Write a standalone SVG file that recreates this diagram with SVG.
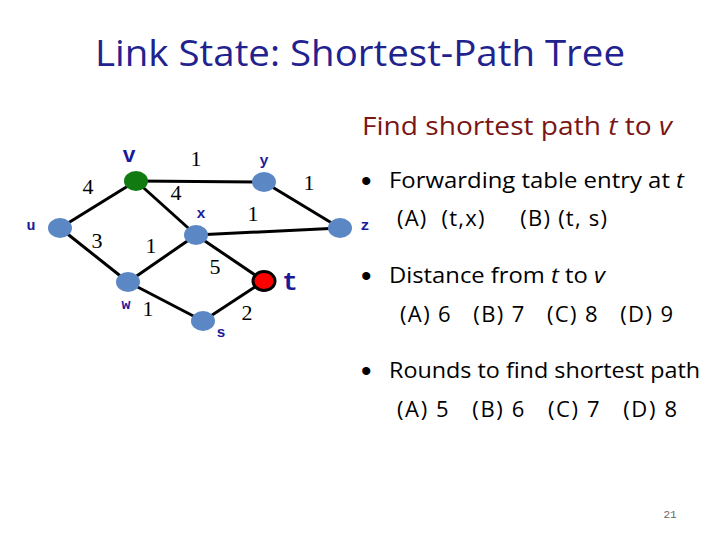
<svg xmlns="http://www.w3.org/2000/svg" width="720" height="540" viewBox="0 0 720 540">
<style>
.e{stroke:#000;stroke-width:3;fill:none}
.n{fill:#5b87c5}
.lbl{font-family:"Liberation Mono",monospace;font-weight:bold;fill:#1a1a99;text-anchor:middle}
.w{font-family:"Liberation Serif",serif;font-size:22px;fill:#000;text-anchor:middle}
.t{font-family:"Open Sans","Noto Sans",sans-serif;fill:#000}
.b{font-family:"Liberation Sans",sans-serif;font-size:30px;fill:#000}
</style>
<rect width="720" height="540" fill="#fff"/>
<text x="360" y="66" text-anchor="middle" font-family="Open Sans, Noto Sans, sans-serif" font-size="36" fill="#22228f" textLength="530" lengthAdjust="spacingAndGlyphs">Link State: Shortest-Path Tree</text>
<g id="connectors">
<line class="e" x1="136" y1="181" x2="264" y2="182"/>
<line class="e" x1="136" y1="181" x2="60" y2="228"/>
<line class="e" x1="136" y1="181" x2="196" y2="235"/>
<line class="e" x1="60" y1="228" x2="128" y2="282"/>
<line class="e" x1="128" y1="282" x2="196" y2="235"/>
<line class="e" x1="128" y1="282" x2="203" y2="321"/>
<line class="e" x1="196" y1="235" x2="340" y2="228"/>
<line class="e" x1="196" y1="235" x2="264" y2="281"/>
<line class="e" x1="264" y1="182" x2="340" y2="228"/>
<line class="e" x1="203" y1="321" x2="264" y2="281"/>
</g>
<g id="node-v"><ellipse cx="136" cy="181" rx="12" ry="10" fill="#117a11"/><text class="lbl" x="129" y="162" font-size="22">v</text></g>
<g id="node-y"><ellipse class="n" cx="264" cy="182" rx="12" ry="10"/><text class="lbl" x="264" y="165" font-size="15">y</text></g>
<g id="node-u"><ellipse class="n" cx="60" cy="228" rx="12" ry="10"/><text class="lbl" x="31" y="230" font-size="15">u</text></g>
<g id="node-x"><ellipse class="n" cx="196" cy="235" rx="12" ry="10"/><text class="lbl" x="201" y="218" font-size="15">x</text></g>
<g id="node-z"><ellipse class="n" cx="340" cy="228" rx="12" ry="10"/><text class="lbl" x="365" y="230" font-size="15">z</text></g>
<g id="node-w"><ellipse class="n" cx="128" cy="282" rx="12" ry="10"/><text class="lbl" x="126" y="309" font-size="15">w</text></g>
<g id="node-t"><ellipse cx="264" cy="281" rx="11" ry="9.5" fill="#f00" stroke="#000" stroke-width="3"/><text class="lbl" x="290" y="290" font-size="26">t</text></g>
<g id="node-s"><ellipse class="n" cx="203" cy="321" rx="12" ry="10"/><text class="lbl" x="221" y="337" font-size="15">s</text></g>
<g id="weights">
<text class="w" x="196" y="166">1</text>
<text class="w" x="88" y="194">4</text>
<text class="w" x="176" y="200">4</text>
<text class="w" x="309" y="190">1</text>
<text class="w" x="253" y="221">1</text>
<text class="w" x="97" y="248">3</text>
<text class="w" x="151" y="253">1</text>
<text class="w" x="215" y="274">5</text>
<text class="w" x="148" y="316">1</text>
<text class="w" x="247" y="320">2</text>
</g>
<g id="text">
<text x="362" y="135" font-family="Open Sans, Noto Sans, sans-serif" font-size="25" fill="#7a1616" textLength="310" lengthAdjust="spacingAndGlyphs">Find shortest path <tspan font-style="italic">t</tspan> to <tspan font-style="italic">v</tspan></text>
<text class="b" x="361" y="191">•</text>
<text class="t" x="389" y="188" font-size="22" textLength="295" lengthAdjust="spacingAndGlyphs">Forwarding table entry at <tspan font-style="italic">t</tspan></text>
<text class="t" x="397" y="226" font-size="22" xml:space="preserve" textLength="210" lengthAdjust="spacing">(A)  (t,x)     (B) (t, s)</text>
<text class="b" x="361" y="286">•</text>
<text class="t" x="389" y="283" font-size="22" textLength="216" lengthAdjust="spacingAndGlyphs">Distance from <tspan font-style="italic">t</tspan> to <tspan font-style="italic">v</tspan></text>
<text class="t" x="400" y="322" font-size="22" xml:space="preserve" textLength="273" lengthAdjust="spacing">(A) 6   (B) 7   (C) 8   (D) 9</text>
<text class="b" x="361" y="381">•</text>
<text class="t" x="389" y="378" font-size="22" textLength="311" lengthAdjust="spacingAndGlyphs">Rounds to find shortest path</text>
<text class="t" x="397" y="417" font-size="22" xml:space="preserve" textLength="280" lengthAdjust="spacing">(A) 5   (B) 6   (C) 7   (D) 8</text>
<text x="670" y="518" text-anchor="middle" font-family="Liberation Mono, monospace" font-size="11" fill="#666">21</text>
</g>
</svg>
